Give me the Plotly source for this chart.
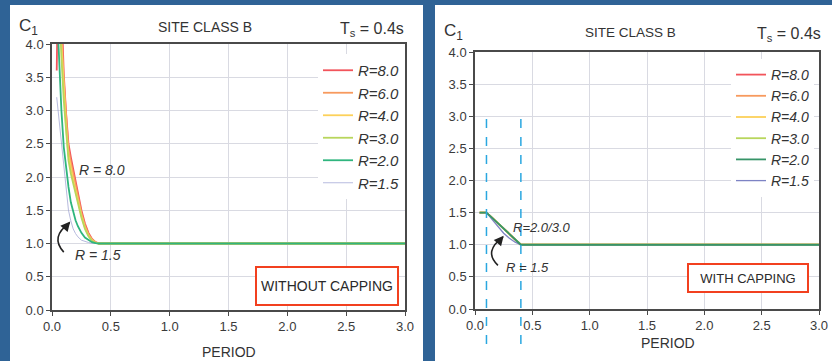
import plotly.graph_objects as go

# ---------------- data ----------------
r_labels = ["R=8.0", "R=6.0", "R=4.0", "R=3.0", "R=2.0", "R=1.5"]
r_colors = ["#f2545b", "#f79a5e", "#fcd15a", "#b8d65c", "#2fb57e", "#7d83c4"]

periods_nc = [0.04, 0.06, 0.08, 0.1, 0.12, 0.14, 0.16, 0.18, 0.2, 0.22, 0.25, 0.28, 0.31, 0.34, 0.37, 0.4, 3.0]
c1_r80_nc = [3.6, 6.0, 4.6, 3.55, 2.95, 2.5, 2.3, 2.12, 1.94, 1.76, 1.5, 1.3, 1.16, 1.07, 1.02, 1.0, 1.0]
c1_r60_nc = [7.0, 5.2, 4.2, 3.45, 2.85, 2.42, 2.22, 2.05, 1.88, 1.71, 1.46, 1.27, 1.14, 1.06, 1.02, 1.0, 1.0]
c1_r40_nc = [6.0, 4.8, 4.0, 3.3, 2.75, 2.33, 2.12, 1.96, 1.8, 1.64, 1.42, 1.24, 1.12, 1.05, 1.01, 1.0, 1.0]
c1_r30_nc = [5.5, 4.5, 3.8, 3.15, 2.65, 2.25, 2.05, 1.9, 1.74, 1.6, 1.39, 1.22, 1.11, 1.04, 1.01, 1.0, 1.0]
c1_r20_nc = [4.6, 3.75, 3.0, 2.45, 2.1, 1.85, 1.62, 1.47, 1.35, 1.26, 1.16, 1.09, 1.05, 1.02, 1.005, 1.0, 1.0]
c1_r15_nc = [3.2, 2.85, 2.45, 2.1, 1.78, 1.5, 1.34, 1.22, 1.15, 1.1, 1.05, 1.03, 1.015, 1.005, 1.0, 1.0, 1.0]

periods_wc = [0.04, 0.1, 0.15, 0.2, 0.25, 0.3, 0.35, 0.4, 3.0]
c1_r80_wc = [1.5, 1.5, 1.417, 1.333, 1.25, 1.167, 1.083, 1.0, 1.0]
c1_r60_wc = [1.5, 1.5, 1.417, 1.333, 1.25, 1.167, 1.083, 1.0, 1.0]
c1_r40_wc = [1.5, 1.5, 1.417, 1.333, 1.25, 1.167, 1.083, 1.0, 1.0]
c1_r30_wc = [1.5, 1.5, 1.417, 1.333, 1.25, 1.167, 1.083, 1.0, 1.0]
c1_r20_wc = [1.5, 1.5, 1.417, 1.333, 1.25, 1.167, 1.083, 1.0, 1.0]
c1_r15_wc = [1.5, 1.5, 1.39, 1.28, 1.18, 1.1, 1.04, 1.0, 1.0]

cap_periods = [0.1, 0.4]
cap_c1_top = 3.05

x_ticks = [0.0, 0.5, 1.0, 1.5, 2.0, 2.5, 3.0]
y_ticks = [0.0, 0.5, 1.0, 1.5, 2.0, 2.5, 3.0, 3.5, 4.0]

nc_series = [c1_r80_nc, c1_r60_nc, c1_r40_nc, c1_r30_nc, c1_r20_nc, c1_r15_nc]
wc_series = [c1_r80_wc, c1_r60_wc, c1_r40_wc, c1_r30_wc, c1_r20_wc, c1_r15_wc]

W, H = 832, 361
BLUE = "#2f6396"
FONT = "Liberation Sans, Arial, sans-serif"

fig = go.Figure()

draw_order = [0, 1, 2, 3, 5, 4]  # R=1.5 beneath, R=2.0 on top
for i in draw_order:
    fig.add_trace(go.Scatter(
        x=periods_nc, y=nc_series[i], mode="lines", name=r_labels[i],
        line=dict(color=r_colors[i], width=1.0 if i == 5 else 1.8),
        opacity=0.55 if i == 5 else 1.0,
        xaxis="x", yaxis="y", legend="legend", legendrank=i + 1,
    ))
for i in draw_order:
    fig.add_trace(go.Scatter(
        x=periods_wc, y=wc_series[i], mode="lines", name=r_labels[i],
        line=dict(color=r_colors[i] if i != 4 else "#379468", width=1.3 if i == 5 else 1.8),
        xaxis="x2", yaxis="y2", legend="legend2", legendrank=i + 1,
    ))

def px2paper_x(px):
    return px / W

def px2paper_y(py):
    return 1 - py / H

axis_common = dict(
    showgrid=True, gridcolor="#d9dae2", gridwidth=1,
    showline=True, linecolor="#4a4a4a", linewidth=1.5, mirror=True,
    ticks="outside", ticklen=4, tickcolor="#4a4a4a",
    tickfont=dict(family=FONT, size=13, color="#3a3a3a"),
    zeroline=False, tickformat=".1f", fixedrange=True, automargin=False,
)

fig.update_layout(
    width=W, height=H,
    margin=dict(l=0, r=0, t=0, b=0, pad=0, autoexpand=False),
    paper_bgcolor=BLUE, plot_bgcolor="white",
    font=dict(family=FONT, color="#333"),
    xaxis=dict(domain=[px2paper_x(52), px2paper_x(405)], range=[0, 3], tickvals=x_ticks, anchor="y", **axis_common),
    yaxis=dict(domain=[px2paper_y(310), px2paper_y(44)], range=[0, 4], tickvals=y_ticks, anchor="x", **axis_common),
    xaxis2=dict(domain=[px2paper_x(475), px2paper_x(819)], range=[0, 3], tickvals=x_ticks, anchor="y2", **axis_common),
    yaxis2=dict(domain=[px2paper_y(309), px2paper_y(52)], range=[0, 4], tickvals=y_ticks, anchor="x2", **axis_common),
    legend=dict(x=px2paper_x(318), y=px2paper_y(54), xanchor="left", yanchor="top",
                bgcolor="white", borderwidth=0, itemwidth=30,
                font=dict(family=FONT, size=15, color="#333", style="italic"),
                tracegroupgap=0),
    legend2=dict(x=px2paper_x(731), y=px2paper_y(59), xanchor="left", yanchor="top",
                 bgcolor="white", borderwidth=0, itemwidth=30,
                 font=dict(family=FONT, size=14, color="#333", style="italic"),
                 tracegroupgap=0),
    showlegend=True,
)

shapes = [
    dict(type="rect", xref="paper", yref="paper", x0=px2paper_x(10), x1=px2paper_x(423),
         y0=0, y1=px2paper_y(5), fillcolor="white", line=dict(width=0), layer="below"),
    dict(type="rect", xref="paper", yref="paper", x0=px2paper_x(435), x1=1,
         y0=0, y1=px2paper_y(5), fillcolor="white", line=dict(width=0), layer="below"),
]
# dashed capping lines (right panel)
y_top_paper = px2paper_y(309) + cap_c1_top / 4 * (px2paper_y(52) - px2paper_y(309))
for t in cap_periods:
    shapes.append(dict(type="line", xref="x2", yref="paper", x0=t, x1=t,
                       y0=px2paper_y(344), y1=y_top_paper,
                       line=dict(color="#2aa7e0", width=1.5, dash="dash"), layer="above"))
# curved arrows
shapes.append(dict(type="path", xref="x", yref="y",
                   path="M 0.10,0.87 Q -0.02,1.10 0.15,1.31",
                   line=dict(color="#222", width=1.6)))
shapes.append(dict(type="path", xref="x2", yref="y2",
                   path="M 0.20,0.68 Q 0.07,0.90 0.245,1.12",
                   line=dict(color="#222", width=1.6)))
fig.update_layout(shapes=shapes)

ann = []
def txt(x, y, text, size, xanchor="center", style="normal", color="#333", xref="paper", yref="paper"):
    ann.append(dict(x=x, y=y, xref=xref, yref=yref, text=text, showarrow=False,
                    xanchor=xanchor, yanchor="middle",
                    font=dict(family=FONT, size=size, color=color, style=style)))

# left panel headings
txt(px2paper_x(17), px2paper_y(27), "C<sub>1</sub>", 17, xanchor="left")
txt(px2paper_x(205), px2paper_y(27), "SITE CLASS B", 14)
txt(px2paper_x(406), px2paper_y(29), "T<sub>s</sub> = 0.4s", 16, xanchor="right")
txt(px2paper_x(229), px2paper_y(352), "PERIOD", 14)
# right panel headings
txt(px2paper_x(442), px2paper_y(32), "C<sub>1</sub>", 17, xanchor="left")
txt(px2paper_x(630), px2paper_y(32), "SITE CLASS B", 13.5)
txt(px2paper_x(823), px2paper_y(35), "T<sub>s</sub> = 0.4s", 16, xanchor="right")
txt(px2paper_x(668), px2paper_y(343), "PERIOD", 14)

# in-plot labels
txt(0.21, 2.1, "R = 8.0", 14, xanchor="left", style="italic", xref="x", yref="y")
txt(0.175, 0.82, "R = 1.5", 14, xanchor="left", style="italic", xref="x", yref="y")
txt(0.31, 1.27, "R=2.0/3.0", 13, xanchor="left", style="italic", xref="x2", yref="y2")
txt(0.255, 0.64, "R = 1.5", 13, xanchor="left", style="italic", xref="x2", yref="y2")

# arrow heads
ann.append(dict(x=0.155, y=1.33, xref="x", yref="y", ax=-6, ay=7, text="", showarrow=True,
                arrowhead=2, arrowsize=1.2, arrowwidth=1.6, arrowcolor="#222", standoff=0))
ann.append(dict(x=0.25, y=1.14, xref="x2", yref="y2", ax=-6, ay=7, text="", showarrow=True,
                arrowhead=2, arrowsize=1.2, arrowwidth=1.6, arrowcolor="#222", standoff=0))

# boxed labels
ann.append(dict(x=2.337, y=0.36, xref="x", yref="y", text="WITHOUT CAPPING", showarrow=False,
                width=140, height=36, borderpad=0, borderwidth=2, bordercolor="#f2401f",
                bgcolor="white", font=dict(family=FONT, size=14, color="#2a2a2a")))
ann.append(dict(x=2.381, y=0.48, xref="x2", yref="y2", text="WITH CAPPING", showarrow=False,
                width=118, height=26, borderpad=0, borderwidth=2, bordercolor="#f2401f",
                bgcolor="white", font=dict(family=FONT, size=13, color="#2a2a2a")))

fig.update_layout(annotations=ann)

fig.write_html("out.html", config={"displayModeBar": False},
               post_script="document.body.style.margin='0';document.body.style.padding='0';document.body.style.overflow='hidden';")
